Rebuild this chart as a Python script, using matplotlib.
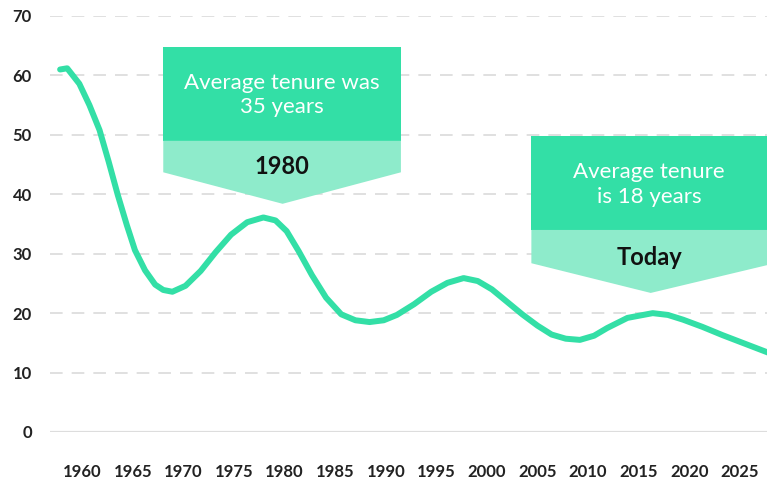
import numpy as np
import matplotlib
matplotlib.use("Agg")
import matplotlib.pyplot as plt
from matplotlib.patches import Polygon

plt.rcParams['font.family'] = ['Lato', 'DejaVu Sans']

# tenure values
years = [1957.8, 1958.5, 1959.7, 1960.7, 1961.7, 1962.6, 1963.5, 1964.4, 1965.2, 1966.2,
         1967.2, 1968.0, 1968.9, 1970.2, 1971.7, 1973.2, 1974.7, 1976.3, 1977.9, 1979.1,
         1980.2, 1981.4, 1982.7, 1984.1, 1985.6, 1987.0, 1988.4, 1989.8, 1991.1, 1992.8,
         1994.5, 1996.1, 1997.7, 1999.1, 2000.5, 2002.0, 2003.5, 2005.0, 2006.4, 2007.8,
         2009.2, 2010.6, 2011.9, 2013.9, 2016.4, 2017.9, 2019.4, 2021.3, 2023.3, 2025.6,
         2027.9]
tenure = [61.0, 61.2, 58.6, 55.0, 50.8, 45.5, 39.9, 34.8, 30.6, 27.2,
          24.8, 23.9, 23.6, 24.6, 27.1, 30.3, 33.2, 35.3, 36.1, 35.6,
          33.8, 30.4, 26.4, 22.6, 19.8, 18.8, 18.5, 18.8, 19.7, 21.5,
          23.6, 25.1, 25.9, 25.4, 24.0, 21.9, 19.8, 17.9, 16.4, 15.7,
          15.5, 16.2, 17.5, 19.2, 20.0, 19.7, 18.9, 17.7, 16.3, 14.8,
          13.3]

xticks = list(range(1960, 2030, 5))
yticks = list(range(0, 80, 10))

callouts = [
    ("Average tenure was\n35 years", "1980", 1968.0, 1991.5, 64.8, 49.0, 43.7, 38.4, 1979.8),
    ("Average tenure\nis 18 years", "Today", 2004.4, 2028.5, 49.8, 34.0, 28.4, 23.4, 2016.2),
]

green = "#33dfa6"
light = "#8eebcb"

fig = plt.figure(figsize=(7.67, 4.80), dpi=100)
ax = fig.add_axes([50 / 767, 0.1, 1 - 50 / 767, (432 - 16) / 480])
ax.set_xlim(1956.8, 2027.7)
ax.set_ylim(0, 70)

for y in yticks[1:]:
    ax.axhline(y, color="#dddddd", lw=1.3, ls=(0, (7, 5)), zorder=0)
ax.axhline(0, color="#dddddd", lw=1.6, zorder=0)

ax.plot(years, tenure, color=green, lw=4.3, solid_capstyle="round",
        solid_joinstyle="round", zorder=2)

for text, label, x0, x1, ytop, ymid, yside, ytip, xtip in callouts:
    top = Polygon([(x0, ytop), (x1, ytop), (x1, ymid), (x0, ymid)], closed=True,
                  facecolor=green, edgecolor="none", zorder=3, clip_on=False)
    bot = Polygon([(x0, ymid), (x1, ymid), (x1, yside), (xtip, ytip), (x0, yside)],
                  closed=True, facecolor=light, edgecolor="none", zorder=3, clip_on=False)
    ax.add_patch(top)
    ax.add_patch(bot)
    xc = (x0 + min(x1, 2027.7)) / 2
    ax.text(xc, (ytop + ymid) / 2 - 0.2, text, ha="center", va="center", color="white",
            fontsize=16, linespacing=1.3, zorder=4)
    ax.text(xc, yside + 0.9, label, ha="center", va="center", color="#111111",
            fontsize=17, fontweight="bold", zorder=4)

ax.set_xticks(xticks)
ax.set_yticks(yticks)
ax.tick_params(length=0, labelsize=12, labelcolor="#222222")
ax.tick_params(axis="x", pad=23)
ax.tick_params(axis="y", pad=13)
for lab in ax.get_xticklabels() + ax.get_yticklabels():
    lab.set_fontweight("bold")
for s in ax.spines.values():
    s.set_visible(False)

fig.savefig("out.png", dpi=100)
